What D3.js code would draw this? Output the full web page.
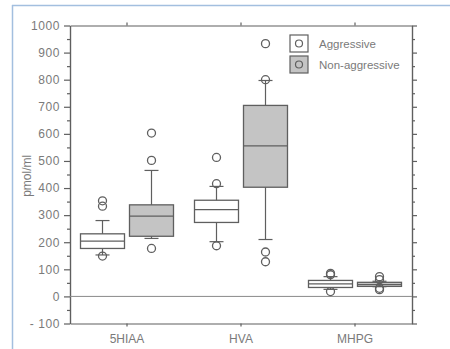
<!DOCTYPE html>
<html>
<head>
<meta charset="utf-8">
<script src="https://cdn.jsdelivr.net/npm/d3@7"></script>
<style>
  body { margin: 0; background: #fff; }
  svg { display: block; font-family: "Liberation Sans", Arial, sans-serif; }
</style>
</head>
<body>
<svg width="450" height="349"></svg>
<script>
// box plot, two groups per metabolite

const groups = ["5HIAA", "HVA", "MHPG"]
const series = ["Aggressive", "Non-aggressive"]

// [low whisker, q1, median, q3, high whisker]
const aggressiveStats = [[153, 177, 204, 231, 280], [202, 273, 320, 355, 406], [26, 33, 46, 59, 73]]
const nonAggressiveStats = [[214, 222, 296, 338, 465], [210, 403, 556, 705, 797], [36, 37, 44, 52, 56]]

const aggressiveOutliers = [[353, 333, 149], [513, 416, 187], [85, 80, 18]]
const nonAggressiveOutliers = [[603, 502, 177], [933, 800, 164, 128], [73, 62, 30, 25]]

const yMajorTicks = [-100, 0, 100, 200, 300, 400, 500, 600, 700, 800, 900, 1000]
const yMinorTicks = [-50, 50, 150, 250, 350, 450, 550, 650, 750, 850, 950]

///////////////////////////////////////////
//////////////// Constants ////////////////
///////////////////////////////////////////
const lineCol = "#5f5f5f"
const textCol = "#7a7a7a"
const fills = ["#ffffff", "#c4c4c4"]
const boxW = 44
const capW = 14

const svg = d3.select("svg")

// the blue frame lines on top and left
svg.append("line").attr("x1", 12).attr("x2", 450).attr("y1", 5.5).attr("y2", 5.5)
  .attr("stroke", "#a3bfdf").attr("stroke-width", 1.5)
svg.append("line").attr("x1", 12.5).attr("x2", 12.5).attr("y1", 5).attr("y2", 349)
  .attr("stroke", "#a3bfdf").attr("stroke-width", 1.5)

const plotLeft = 70, plotRight = 412, plotTop = 25.5, plotBottom = 323.5

const y = d3.scaleLinear().domain([-100, 1000]).range([plotBottom, plotTop])
const x = d3.scaleBand().domain(groups).range([plotLeft, plotRight])
const sub = d3.scaleBand().domain(series)
  .range([x.bandwidth() / 2 - 49, x.bandwidth() / 2 + 49])

const styleAxis = g => {
  g.select(".domain").attr("stroke", lineCol).attr("stroke-width", 1.2)
  g.selectAll(".tick line").attr("stroke", lineCol).attr("stroke-width", 1.2)
  g.selectAll("text").attr("fill", textCol).attr("font-size", 12)
    .attr("font-family", "Liberation Sans, Arial, sans-serif")
}

// left axis
svg.append("g").attr("transform", `translate(${plotLeft},0)`)
  .call(d3.axisLeft(y).tickValues(yMajorTicks).tickSize(6).tickSizeOuter(0).tickPadding(4)
    .tickFormat(d => d < 0 ? "- " + Math.abs(d) : d))
  .call(styleAxis)
  .call(g => g.selectAll("text").attr("letter-spacing", 0.6))
svg.append("g").attr("transform", `translate(${plotLeft},0)`)
  .call(d3.axisLeft(y).tickValues(yMinorTicks).tickSize(3).tickSizeOuter(0).tickFormat(""))
  .call(styleAxis)

// right axis
svg.append("g").attr("transform", `translate(${plotRight},0)`)
  .call(d3.axisRight(y).tickValues(yMajorTicks).tickSize(5).tickSizeOuter(0).tickFormat(""))
  .call(styleAxis)
svg.append("g").attr("transform", `translate(${plotRight},0)`)
  .call(d3.axisRight(y).tickValues(yMinorTicks).tickSize(3).tickSizeOuter(0).tickFormat(""))
  .call(styleAxis)

// top and bottom axes
svg.append("g").attr("transform", `translate(0,${plotTop})`)
  .call(d3.axisTop(x).tickSize(3).tickSizeOuter(0).tickFormat(""))
  .call(styleAxis)
svg.append("g").attr("transform", `translate(0,${plotBottom})`)
  .call(d3.axisBottom(x).tickSize(3).tickSizeOuter(0).tickPadding(8))
  .call(styleAxis)

// zero line
svg.append("line")
  .attr("x1", plotLeft).attr("x2", plotRight).attr("y1", y(0)).attr("y2", y(0))
  .attr("stroke", "#8a8a8a").attr("stroke-width", 1)

// y label
svg.append("text")
  .attr("transform", `translate(31,${y(445)}) rotate(-90)`)
  .attr("text-anchor", "middle")
  .attr("fill", textCol).attr("font-size", 12)
  .text("pmol/ml")

////////////////////////////
////////// Boxes ///////////
////////////////////////////
const boxes = []
groups.forEach((g, i) => {
  boxes.push({ group: g, series: series[0], s: aggressiveStats[i], out: aggressiveOutliers[i], fill: fills[0] })
  boxes.push({ group: g, series: series[1], s: nonAggressiveStats[i], out: nonAggressiveOutliers[i], fill: fills[1] })
})

const cx = d => x(d.group) + sub(d.series) + sub.bandwidth() / 2

const boxG = svg.selectAll(".box")
  .data(boxes)
  .join("g")
  .classed("box", true)

// whisker stems
boxG.append("line")
  .attr("x1", cx).attr("x2", cx)
  .attr("y1", d => y(d.s[0])).attr("y2", d => y(d.s[4]))
  .attr("stroke", lineCol).attr("stroke-width", 1.2)
// caps
boxG.selectAll(".cap")
  .data(d => [d.s[0], d.s[4]].map(v => ({ v, c: cx(d) })))
  .join("line")
  .attr("x1", d => d.c - capW / 2).attr("x2", d => d.c + capW / 2)
  .attr("y1", d => y(d.v)).attr("y2", d => y(d.v))
  .attr("stroke", lineCol).attr("stroke-width", 1.2)

boxG.append("rect")
  .attr("x", d => cx(d) - boxW / 2)
  .attr("width", boxW)
  .attr("y", d => y(d.s[3]))
  .attr("height", d => y(d.s[1]) - y(d.s[3]))
  .attr("fill", d => d.fill)
  .attr("stroke", lineCol).attr("stroke-width", 1.3)

boxG.append("line")
  .attr("x1", d => cx(d) - boxW / 2).attr("x2", d => cx(d) + boxW / 2)
  .attr("y1", d => y(d.s[2])).attr("y2", d => y(d.s[2]))
  .attr("stroke", lineCol).attr("stroke-width", 1.2)

// outliers
boxG.selectAll(".outlier")
  .data(d => d.out.map(v => ({ v, c: cx(d) })))
  .join("circle")
  .classed("outlier", true)
  .attr("cx", d => d.c).attr("cy", d => y(d.v)).attr("r", 4)
  .attr("fill", "none")
  .attr("stroke", lineCol).attr("stroke-width", 1.3)

////////////////////////////
////////// Legend //////////
////////////////////////////
const legend = svg.selectAll(".legend")
  .data(series)
  .join("g")
  .classed("legend", true)
  .attr("transform", (d, i) => `translate(290,${35 + i * 21})`)

legend.append("rect")
  .attr("width", 18).attr("height", 17)
  .attr("fill", (d, i) => fills[i])
  .attr("stroke", lineCol).attr("stroke-width", 1.2)
legend.append("circle")
  .attr("cx", 9).attr("cy", 8.5).attr("r", 3.5)
  .attr("fill", "none").attr("stroke", lineCol).attr("stroke-width", 1.2)
legend.append("text")
  .attr("x", 29).attr("y", 8.5).attr("dy", "0.35em")
  .attr("fill", textCol).attr("font-size", 11.5)
  .text(d => d)
</script>
</body>
</html>
